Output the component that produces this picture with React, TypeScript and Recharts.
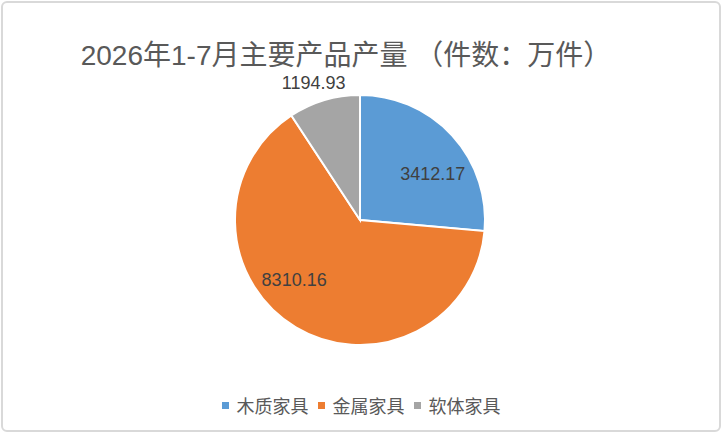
import { Legend, Pie, PieChart } from "recharts";

const title = "2026年1-7月主要产品产量 （件数：万件）";
const categories = ["木质家具", "金属家具", "软体家具"];
const values = [3412.17, 8310.16, 1194.93];
const colors = ["#5B9BD5", "#ED7D31", "#A5A5A5"];

const FONT = '"Liberation Sans", Arial, "Noto Sans CJK SC", sans-serif';

const chartData = categories.map((name, i) => ({
  name,
  value: values[i],
  fill: colors[i]
}));

// excel's "best fit" label spots, as radius factor + angle nudge
const labelTweak = [
  { r: 0.69, da: -10 },
  { r: 0.71, da: -17 },
  { r: 1.16, da: 2 }
];

const RADIAN = Math.PI / 180;

function renderLabel(props: any) {
  const { cx, cy, midAngle, outerRadius, index, value } = props;
  const t = labelTweak[index] || { r: 0.7, da: 0 };
  const a = (midAngle + t.da) * RADIAN;
  const r = outerRadius * t.r;
  const x = cx + r * Math.cos(a);
  const y = cy - r * Math.sin(a);
  return (
    <text
      x={x}
      y={y}
      fill="#404040"
      fontSize={18}
      fontFamily={FONT}
      textAnchor="middle"
      dominantBaseline="central"
    >
      {value.toFixed(2)}
    </text>
  );
}

function LegendBox() {
  return (
    <div
      style={{
        display: "flex",
        justifyContent: "center",
        alignItems: "center",
        fontFamily: FONT,
        fontSize: 18,
        color: "#595959"
      }}
    >
      {categories.map((c, i) => (
        <div
          key={c}
          style={{ display: "flex", alignItems: "center", marginRight: i < categories.length - 1 ? 9 : 0 }}
        >
          <span
            style={{
              width: 7,
              height: 7,
              background: colors[i],
              display: "inline-block",
              marginRight: 8
            }}
          />
          <span>{c}</span>
        </div>
      ))}
    </div>
  );
}

export default function App() {
  return (
    <div style={{ position: "fixed", left: 0, top: 0, width: 722, height: 434, background: "#fff" }}>
      <div
        style={{
          position: "absolute",
          left: 1,
          top: 1,
          width: 720,
          height: 431,
          boxSizing: "border-box",
          border: "2px solid #d9d9d9",
          borderRadius: 6
        }}
      />
      <div style={{ position: "absolute", left: 0, top: 0 }}>
        <PieChart width={722} height={434} margin={{ top: 0, right: 0, bottom: 0, left: 0 }}>
          <Pie
            data={chartData}
            dataKey="value"
            nameKey="name"
            cx={360}
            cy={220}
            outerRadius={125}
            startAngle={90}
            endAngle={-270}
            stroke="#ffffff"
            strokeWidth={2}
            label={renderLabel}
            labelLine={false}
            isAnimationActive={false}
          />
          <Legend
            content={() => <LegendBox />}
            wrapperStyle={{ position: "absolute", top: 392, left: 0, width: 722 }}
          />
        </PieChart>
      </div>
      <svg
        width={722}
        height={434}
        style={{ position: "absolute", left: 0, top: 0, pointerEvents: "none" }}
      >
        <text x={346} y={65} textAnchor="middle" fill="#595959" fontSize={28} fontFamily={FONT}>
          {title}
        </text>
      </svg>
    </div>
  );
}
